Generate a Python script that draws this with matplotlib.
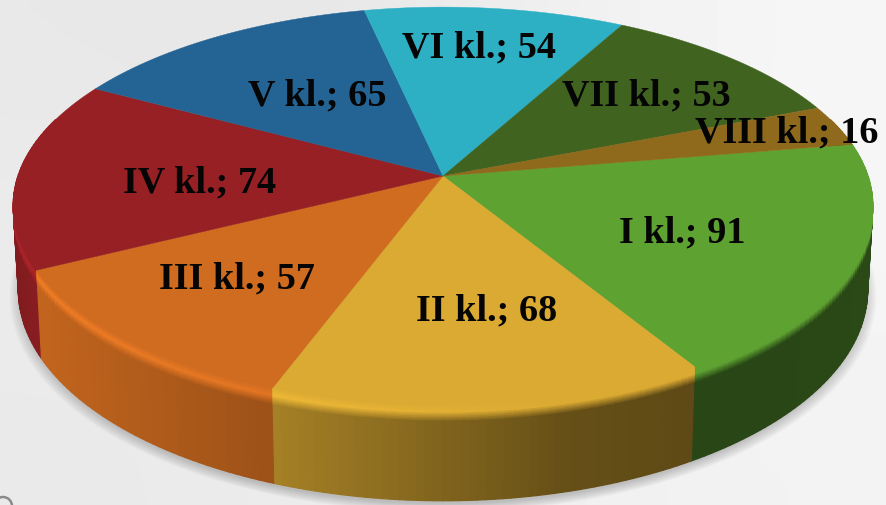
"""3D-look pie of pupils per class, drawn with perspective-projected wedges."""
import matplotlib
matplotlib.use("Agg")
import matplotlib.pyplot as plt
import numpy as np
from matplotlib.collections import PolyCollection
from matplotlib.patches import Arc

CLASSES = ["I kl.", "II kl.", "III kl.", "IV kl.", "V kl.", "VI kl.", "VII kl.", "VIII kl."]
VALUES = [91, 68, 57, 74, 65, 54, 53, 16]
COLORS = ["#5ea232", "#dbaa32", "#d06c20", "#962024",
          "#246494", "#2eb0c4", "#406420", "#8f6a1c"]
LABEL_POS = [(682, 233), (487, 311), (237, 279), (200, 183),
             (317, 96), (479, 48), (646, 96), (787, 133)]

W, H = 887, 505
START = 9.6  # degrees, slices run clockwise
CX, CY = 443, 176
A, B, K = 425, 194, 0.1486
DEPTH = 83
BEVEL = 16


def project(theta, r=1.0, z=0.0):
    """Unit-disc polar coords + drop z (px) -> image pixels."""
    x = r * np.cos(theta)
    y = r * np.sin(theta)
    w = 1 + K * y
    px = CX + A * x / w * (1 - 0.012 * z / DEPTH)
    py = CY - B * y / w + z / w
    return px, py


def wall_shade(px):
    return np.interp(px, [15, 40, 277, 560, 697, 875],
                     [0.85, 0.93, 0.75, 0.47, 0.43, 0.45])


def rgb(c):
    return np.array(matplotlib.colors.to_rgb(c))


def quad(t0, t1, z0, z1):
    xa, ya = project(np.array([t0, t1]), z=z0)
    xb, yb = project(np.array([t1, t0]), z=z1)
    return np.column_stack([np.r_[xa, xb], np.r_[ya, yb]])


def add_quads(items, zorder):
    # paint back to front so nearer columns sit on top
    items = sorted(items, key=lambda q: q[0])
    colors = [q[2] for q in items]
    ax.add_collection(PolyCollection([q[1] for q in items], facecolors=colors,
                                     edgecolors=colors, linewidths=0.9, zorder=zorder))


fig = plt.figure(figsize=(W / 100, H / 100), dpi=100)
ax = fig.add_axes([0, 0, 1, 1])
ax.set_xlim(0, W)
ax.set_ylim(H, 0)
ax.axis("off")

# background
bg = np.array([[0.91, 0.90, 0.94, 0.965],
               [0.925, 0.93, 0.95, 0.965],
               [0.915, 0.925, 0.94, 0.95]])
ax.imshow(bg, cmap="gray", vmin=0, vmax=1, extent=[0, W, H, 0],
          interpolation="bicubic", aspect="auto", zorder=0)
ax.add_patch(Arc((3, 506), 18, 18, theta1=180, theta2=360, color="#8a8a8a", lw=1.8, zorder=1))

# angles of slice boundaries, from the values
sweep = np.array(VALUES) / np.sum(VALUES) * 360
edges = START - np.concatenate([[0], np.cumsum(sweep)])

# soft shadow below the pie
circle = np.linspace(0, 2 * np.pi, 361)
for grow in np.linspace(1.02, 0.99, 10):
    sx, sy = project(circle, r=grow, z=DEPTH)
    ax.fill(sx, sy + 5, color="#555555", alpha=0.035, lw=0, zorder=2)

# side wall + rounded rim, one small quad per degree
walls, rim = [], []
for i, color in enumerate(COLORS):
    c = rgb(color)
    n = max(int(sweep[i]), 2)
    th = np.radians(np.linspace(edges[i], edges[i + 1], n + 1))
    for t0, t1 in zip(th[:-1], th[1:]):
        mid = (t0 + t1) / 2
        if np.sin(mid) > 0.3:
            continue
        x0, _ = project(mid)
        wc = c * wall_shade(x0)
        walls.append((-np.sin(mid), quad(t0, t1, BEVEL - 1, DEPTH - 0.5), wc))
        # rim: top colour -> highlight -> wall colour
        glow = max(0.0, (560 - x0) / 520)
        hi = np.clip(c * (1 + 0.16 * glow), 0, 1)
        rows = np.linspace(0, BEVEL, 13)
        for j, (z0, z1) in enumerate(zip(rows[:-1], rows[1:])):
            s = j / 11
            if s < 0.45:
                col = c + (hi - c) * s / 0.45
            else:
                col = hi + (wc - hi) * (s - 0.45) / 0.55
            rim.append((-np.sin(mid) + j * 1e-4, quad(t0, t1, z0, z1), col))

add_quads(walls, 3)
add_quads(rim, 3.5)

# top face
for i, color in enumerate(COLORS):
    th = np.radians(np.linspace(edges[i], edges[i + 1], 120))
    px, py = project(th)
    ax.fill(np.r_[CX, px], np.r_[CY, py], color=color, lw=0.3, zorder=4)

for name, val, (lx, ly) in zip(CLASSES, VALUES, LABEL_POS):
    ax.text(lx, ly, f"{name}; {val}", ha="center", va="center", color="#050505",
            fontsize=27.5, fontweight="bold", family="Liberation Serif", zorder=5)

fig.savefig("out.png", dpi=100)
